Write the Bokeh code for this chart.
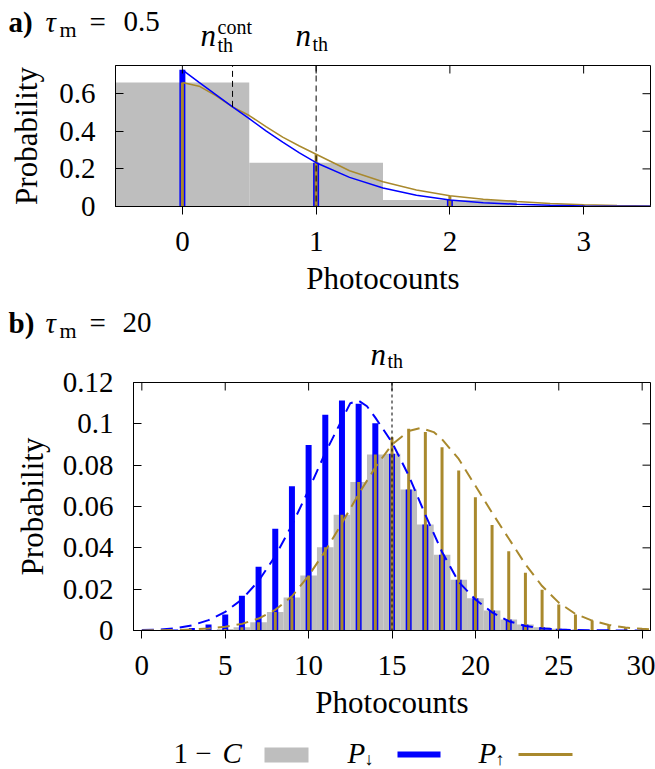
import numpy as np
from bokeh.plotting import figure
from bokeh.models import Range1d, FixedTicker, Span
from bokeh.core.properties import value
from bokeh.layouts import column
from bokeh.embed import file_html
from bokeh.resources import INLINE

FONT = "Liberation Serif"
GRAY = "#bebebe"
BLUE = "#0000ff"
GOLD = "#a9892d"
W = 655

# ---------------- panel a (tau_m = 0.5) ----------------
a_counts = [0, 1, 2, 3]
a_one_minus_c = [0.660, 0.233, 0.034, 0.003]
a_p_down = [0.727, 0.233, 0.034, 0.003]
a_p_up = [0.660, 0.278, 0.057, 0.009]
a_curve_x = [0, 0.125, 0.25, 0.375, 0.5, 0.625, 0.75, 0.875, 1.0, 1.25, 1.5,
             1.75, 2.0, 2.25, 2.5, 2.75, 3.0, 3.25, 3.5]
a_curve_down = [0.727, 0.660, 0.595, 0.530, 0.467, 0.402, 0.342, 0.285, 0.233,
                0.155, 0.098, 0.060, 0.034, 0.020, 0.012, 0.006, 0.003, 0.0015, 0.0007]
a_curve_up = [0.660, 0.640, 0.590, 0.530, 0.484, 0.425, 0.369, 0.322, 0.278,
              0.190, 0.132, 0.088, 0.057, 0.039, 0.027, 0.016, 0.009, 0.005, 0.003]
a_nth = 1.0
a_nth_cont = 0.375
a_nth_cont_level = 0.53
a_xticks = [0, 1, 2, 3]
a_xtick_labels = ["0", "1", "2", "3"]
a_yticks = [0, 0.2, 0.4, 0.6]
a_ytick_labels = ["0", "0.2", "0.4", "0.6"]

# ---------------- panel b (tau_m = 20) ----------------
b_counts = list(range(0, 31))
b_one_minus_c = [0, 0, 0.0001, 0.0002, 0.0003, 0.0007, 0.0016, 0.0040, 0.0089, 0.0160,
                 0.0266, 0.0403, 0.0560, 0.0718, 0.0852, 0.0855, 0.0682, 0.0513, 0.0366,
                 0.0245, 0.0156, 0.0097, 0.0053, 0.0029, 0.0016, 0.0008, 0.0004, 0.0002,
                 0.0001, 0, 0]
b_p_down = [0.0001, 0.0002, 0.0005, 0.0012, 0.0029, 0.0077, 0.0168, 0.0308, 0.0492,
            0.0698, 0.0897, 0.1044, 0.1113, 0.1097, 0.1003, 0.0855, 0.0682, 0.0513,
            0.0366, 0.0245, 0.0156, 0.0097, 0.0053, 0.0029, 0.0016, 0.0008, 0.0004,
            0.0002, 0.0001, 0, 0]
b_p_up = [0, 0, 0.0001, 0.0002, 0.0003, 0.0007, 0.0016, 0.0040, 0.0089, 0.0160, 0.0266,
          0.0403, 0.0560, 0.0718, 0.0852, 0.0935, 0.0976, 0.0960, 0.0887, 0.0774, 0.0645,
          0.0511, 0.0384, 0.0279, 0.0197, 0.0126, 0.0077, 0.0048, 0.0027, 0.0016, 0.0008]
b_down_fit_x = [0, 1, 2, 3, 4, 5, 6, 7, 8, 9, 10, 11, 12, 12.5, 13, 13.5, 14, 15, 16,
                17, 18, 19, 20, 21, 22, 23, 24, 25, 26, 27, 28, 29, 30, 30.5]
b_down_fit_y = [0.0002, 0.0004, 0.0010, 0.0025, 0.0050, 0.0090, 0.0150, 0.0240, 0.0360,
                0.0510, 0.0680, 0.0860, 0.1020, 0.1100, 0.1112, 0.1085, 0.1030, 0.0910,
                0.0750, 0.0560, 0.0380, 0.0235, 0.0150, 0.0088, 0.0045, 0.0022, 0.0010,
                0.0005, 0.0002, 0.0001, 0.0001, 0, 0, 0]
b_up_fit_x = [0, 1, 2, 3, 4, 5, 6, 7, 8, 9, 10, 11, 12, 13, 14, 15, 16, 16.7, 17.5, 18,
              19, 20, 21, 22, 23, 24, 25, 26, 27, 28, 29, 30, 30.5]
b_up_fit_y = [0.0000, 0.0001, 0.0002, 0.0005, 0.0010, 0.0018, 0.0032, 0.0058, 0.0100,
              0.0165, 0.0265, 0.0385, 0.0520, 0.0660, 0.0790, 0.0900, 0.0965, 0.0980,
              0.0960, 0.0925, 0.0830, 0.0700, 0.0570, 0.0445, 0.0320, 0.0215, 0.0135,
              0.0080, 0.0048, 0.0027, 0.0014, 0.0008, 0.0006]
b_nth = 15
b_xticks = [0, 5, 10, 15, 20, 25, 30]
b_xtick_labels = ["0", "5", "10", "15", "20", "25", "30"]
b_yticks = [0, 0.02, 0.04, 0.06, 0.08, 0.1, 0.12]
b_ytick_labels = ["0", "0.02", "0.04", "0.06", "0.08", "0.1", "0.12"]

legend_labels = ["1 \u2212", "C", "P", "\u2193", "P", "\u2191"]


def style(p, xt, xl, yt, yl, ylab_standoff, frame_w, frame_h):
    p.grid.visible = False
    p.outline_line_color = "black"
    p.background_fill_color = "white"
    p.border_fill_color = "white"
    p.frame_align = False
    for ax in p.xaxis:
        ax.ticker = FixedTicker(ticks=xt)
        ax.major_label_overrides = dict(zip(xt, xl))
        ax.major_tick_in = 0
        ax.major_tick_out = 8
        ax.major_label_standoff = 17
        ax.axis_label_standoff = 7
    for ax in p.yaxis:
        ax.ticker = FixedTicker(ticks=yt)
        ax.major_label_overrides = dict(zip(yt, yl))
        ax.major_tick_in = 8
        ax.major_tick_out = 0
        ax.major_label_standoff = 20
        ax.axis_label_standoff = ylab_standoff
    for ax in p.axis:
        ax.minor_tick_line_color = None
        ax.axis_line_color = "black"
        ax.major_tick_line_color = "black"
        ax.major_label_text_font = FONT
        ax.major_label_text_font_size = "29px"
        ax.major_label_text_color = "black"
        ax.axis_label_text_font = FONT
        ax.axis_label_text_font_size = "31px"
        ax.axis_label_text_font_style = "normal"
        ax.axis_label_text_color = "black"
    # mirrored inward ticks on the top and right edges of the frame
    x0, x1 = p.x_range.start, p.x_range.end
    y0, y1 = p.y_range.start, p.y_range.end
    dy = 8 * (y1 - y0) / frame_h
    dx = 8 * (x1 - x0) / frame_w
    p.segment(x0=xt, y0=[y1 - dy] * len(xt), x1=xt, y1=[y1] * len(xt),
              line_color="black", line_width=1)
    p.segment(x0=[x1 - dx] * len(yt), y0=yt, x1=[x1] * len(yt), y1=yt,
              line_color="black", line_width=1)


def txt(p, x, y_base, text, size, style="normal"):
    # y_base is the wanted baseline; the text is placed by the middle of its line box
    p.text(x=[x], y=[y_base + 0.3375 * size], text=[text], text_font=value(FONT),
           text_font_size=value(f"{size}px"), text_font_style=value(style),
           text_align="left", text_baseline="middle", text_color="black")


def strip(height):
    s = figure(width=W, height=height, x_range=Range1d(0, W), y_range=Range1d(0, height),
               output_backend="svg", toolbar_location=None, title=None,
               x_axis_location=None, y_axis_location=None,
               min_border_left=0, min_border_right=0, min_border_top=0, min_border_bottom=0)
    s.grid.visible = False
    s.outline_line_color = None
    s.background_fill_color = "white"
    s.border_fill_color = "white"
    s.frame_align = False
    return s


# ---------------- header a (page y 0..57) ----------------
H_A = 57
ha = strip(H_A)
txt(ha, 8, H_A - 31, "a)", 29, "bold")
txt(ha, 45, H_A - 31, "\u03c4", 29, "italic")
txt(ha, 59, H_A - 36, "m", 22)
txt(ha, 89, H_A - 31, "=", 29)
txt(ha, 123, H_A - 31, "0.5", 29)
txt(ha, 200, H_A - 45, "n", 31, "italic")
txt(ha, 217, H_A - 33, "cont", 20)
txt(ha, 217, H_A - 51, "th", 20)
txt(ha, 295, H_A - 45, "n", 31, "italic")
txt(ha, 312, H_A - 50, "th", 20)

# ---------------- figure a (page y 57..306) ----------------
pa = figure(width=W, height=249, x_range=Range1d(-0.5, 3.5), y_range=Range1d(0, 0.75),
            output_backend="svg", toolbar_location=None, title=None,
            min_border_left=115, min_border_right=5, min_border_top=8, min_border_bottom=100,
            x_axis_label="Photocounts", y_axis_label="Probability")
pa.vbar(x=a_counts, top=a_one_minus_c, width=1.0, fill_color=GRAY, line_color=None)
pa.segment(x0=a_counts, y0=[0] * len(a_counts), x1=a_counts, y1=a_p_down,
           line_color=BLUE, line_width=6)
pa.segment(x0=a_counts, y0=[0] * len(a_counts), x1=a_counts, y1=a_p_up,
           line_color=GOLD, line_width=3)
pa.line(a_curve_x, a_curve_up, line_color=GOLD, line_width=1.5)
pa.line(a_curve_x, a_curve_down, line_color=BLUE, line_width=1.5)
pa.add_layout(Span(location=a_nth, dimension="height", line_color="black",
                   line_width=1, line_dash="6 4"))
pa.segment(x0=[a_nth_cont], y0=[a_nth_cont_level], x1=[a_nth_cont], y1=[0.75],
           line_color="black", line_width=1, line_dash="6 4")
style(pa, a_xticks, a_xtick_labels, a_yticks, a_ytick_labels, 12, 535, 141)

# ---------------- header b (page y 306..372) ----------------
HB_BOTTOM = 372
hb = strip(66)
txt(hb, 8, HB_BOTTOM - 332, "b)", 29, "bold")
txt(hb, 45, HB_BOTTOM - 332, "\u03c4", 29, "italic")
txt(hb, 59, HB_BOTTOM - 337, "m", 22)
txt(hb, 89, HB_BOTTOM - 332, "=", 29)
txt(hb, 122, HB_BOTTOM - 332, "20", 29)
txt(hb, 370, HB_BOTTOM - 364, "n", 31, "italic")
txt(hb, 387, HB_BOTTOM - 367, "th", 20)

# ---------------- figure b (page y 372..730) ----------------
pb = figure(width=W, height=358, x_range=Range1d(-0.5, 30.5), y_range=Range1d(0, 0.12),
            output_backend="svg", toolbar_location=None, title=None,
            min_border_left=133, min_border_right=5, min_border_top=10, min_border_bottom=100,
            x_axis_label="Photocounts", y_axis_label="Probability")
pb.vbar(x=b_counts, top=b_one_minus_c, width=1.0, fill_color=GRAY, line_color=None)
pb.segment(x0=b_counts, y0=[0] * len(b_counts), x1=b_counts, y1=b_p_down,
           line_color=BLUE, line_width=6)
pb.segment(x0=b_counts, y0=[0] * len(b_counts), x1=b_counts, y1=b_p_up,
           line_color=GOLD, line_width=3)
pb.line(b_down_fit_x, b_down_fit_y, line_color=BLUE, line_width=2, line_dash="12 7")
pb.line(b_up_fit_x, b_up_fit_y, line_color=GOLD, line_width=2, line_dash="12 7")
pb.add_layout(Span(location=b_nth, dimension="height", line_color="black",
                   line_width=1, line_dash="3 3"))
style(pb, b_xticks, b_xtick_labels, b_yticks, b_ytick_labels, 10, 517, 248)

# ---------------- legend (page y 730..769) ----------------
H_L = 39
pl = strip(H_L)
BOT = 769
txt(pl, 173, BOT - 762, legend_labels[0], 29)
txt(pl, 222, BOT - 762, legend_labels[1], 29, "italic")
pl.quad(left=[264], right=[308], bottom=[BOT - 762], top=[BOT - 747],
        fill_color=GRAY, line_color=None)
txt(pl, 347, BOT - 762, legend_labels[2], 29, "italic")
txt(pl, 364, BOT - 765, legend_labels[3], 18)
pl.segment(x0=[397], y0=[BOT - 754], x1=[440], y1=[BOT - 754], line_color=BLUE, line_width=6)
txt(pl, 478, BOT - 762, legend_labels[4], 29, "italic")
txt(pl, 495, BOT - 765, legend_labels[5], 18)
pl.segment(x0=[518], y0=[BOT - 754], x1=[572], y1=[BOT - 754], line_color=GOLD, line_width=3)

layout = column(ha, pa, hb, pb, pl, spacing=0)
open("out.html", "w").write(file_html(layout, INLINE))
